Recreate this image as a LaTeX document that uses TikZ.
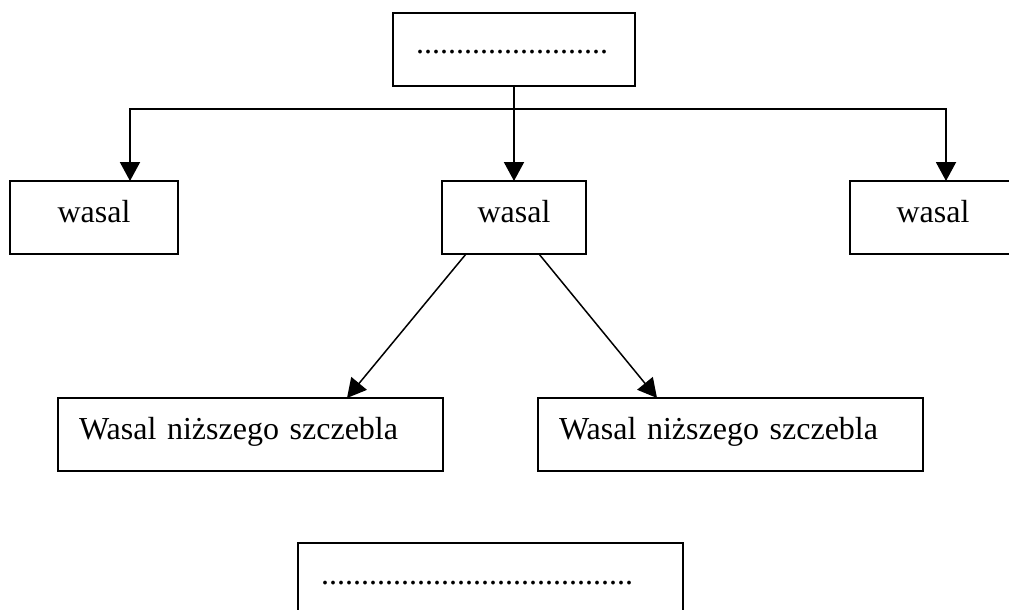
\documentclass[tikz,border=0pt]{standalone}
\usepackage{fontspec}
\setmainfont{Liberation Serif}
\usetikzlibrary{arrows.meta,calc}
\begin{document}
\begin{tikzpicture}[x=1pt,y=-1pt,
  box/.style={draw=black, line width=2pt, rectangle, anchor=north west,
    inner ysep=0pt, outer sep=0pt, text height=41pt, text depth=32pt,
    font=\fontsize{32}{38}\selectfont},
  cbox/.style={box, inner xsep=0pt},
  lbox/.style={box, align=left},
  conn/.style={line width=2pt, -{Triangle[length=19pt,width=20pt]}},
  dconn/.style={line width=1.5pt, -{Triangle[length=19pt,width=20pt]}}]
\useasboundingbox (0,0) rectangle (1009,610);
\clip (0,0) rectangle (1009,610);
\fill[white] (0,0) rectangle (1009,610);
% boxes
\node[lbox, inner xsep=23pt, text width=196pt] (top) at (393,13) {........................};
\node[cbox, minimum width=168pt] (left) at (10,181) {wasal};
\node[cbox, minimum width=144pt] (mid) at (442,181) {wasal};
\node[cbox, minimum width=166pt] (right) at (850,181) {wasal};
\node[lbox, inner xsep=21pt, text width=343pt] (ll) at (58,398) {Wasal niższego szczebla};
\node[lbox, inner xsep=21pt, text width=343pt] (lr) at (538,398) {Wasal niższego szczebla};
\node[lbox, inner xsep=23pt, text width=339pt] (bot) at (298,543) {.......................................};
% connectors
\coordinate (bus) at (514,109);
\coordinate (jl) at (130,109);
\coordinate (jr) at (946,109);
\draw[conn] (top) -- (mid);
\draw[conn] (bus) -| (left.north -| jl);
\draw[conn] (bus) -| (right.north -| jr);
\draw[dconn] ($(mid.south)+(-48,0)$) -- ($(ll.north east)+(-96,0)$);
\draw[dconn] ($(mid.south)+(25,0)$) -- ($(lr.north west)+(119,0)$);
\end{tikzpicture}
\end{document}
